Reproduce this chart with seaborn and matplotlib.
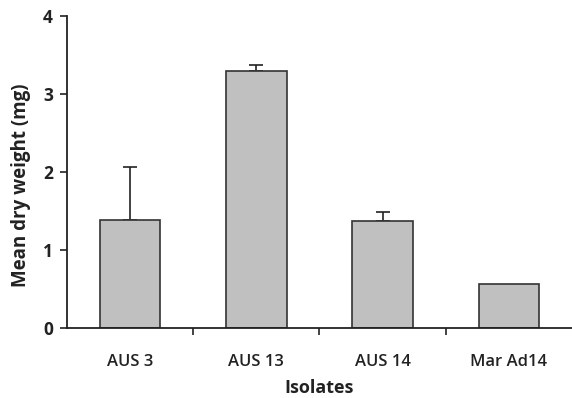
import matplotlib
matplotlib.use("Agg")
import matplotlib.pyplot as plt
import seaborn as sns
import pandas as pd
import numpy as np

categories = ["AUS 3", "AUS 13", "AUS 14", "Mar Ad14"]
means = [1.38, 3.29, 1.37, 0.56]
errors_up = [0.68, 0.08, 0.12, 0.0]
y_ticks = [0, 1, 2, 3, 4]

sns.set_style("white")
plt.rcParams['font.family'] = ['Open Sans', 'DejaVu Sans']

df = pd.DataFrame({"Isolates": categories, "Mean": means})

fig = plt.figure(figsize=(5.72, 3.98), dpi=100)
ax = fig.add_axes([0.117, 0.176, 0.883, 0.784])

xpos = np.arange(len(categories))
m = np.array(errors_up) > 0
ax.errorbar(x=xpos[m], y=np.array(means)[m],
            yerr=[np.zeros(m.sum()), np.array(errors_up)[m]],
            fmt='none', ecolor='#222222', elinewidth=1.2, capsize=5, capthick=1.2, zorder=1)
sns.barplot(data=df, x="Isolates", y="Mean", color="#c0c0c0", saturation=1,
            edgecolor="#333333", linewidth=1.2, width=0.48, ax=ax, zorder=2)

ax.set_xlim(-0.5, 3.5)
ax.set_ylim(0, 4)
ax.set_yticks(y_ticks)
ax.set_yticklabels([str(t) for t in y_ticks], fontsize=12.5, fontweight='bold', color='#222222')
ax.set_xticks(xpos)
ax.set_xticklabels(categories, fontsize=12, fontweight='semibold', color='#222222')
ax.set_xticks([0.5, 1.5, 2.5], minor=True)
ax.tick_params(axis='x', which='major', length=0, pad=19)
ax.tick_params(axis='x', which='minor', length=5, width=1.2, color='#222222', direction='out', bottom=True)
ax.tick_params(axis='y', which='major', length=5, width=1.2, color='#222222', direction='out', left=True, pad=5)

for s in ['top', 'right']:
    ax.spines[s].set_visible(False)
for s in ['left', 'bottom']:
    ax.spines[s].set_color('#222222')
    ax.spines[s].set_linewidth(1.3)

ax.set_xlabel("Isolates", fontsize=13, fontweight='bold', color='#222222', labelpad=6)
ax.set_ylabel("Mean dry weight (mg)", fontsize=13.5, fontweight='bold', color='#222222')
ax.yaxis.set_label_coords(-0.071, 0.458)

fig.savefig("out.png", dpi=100)
